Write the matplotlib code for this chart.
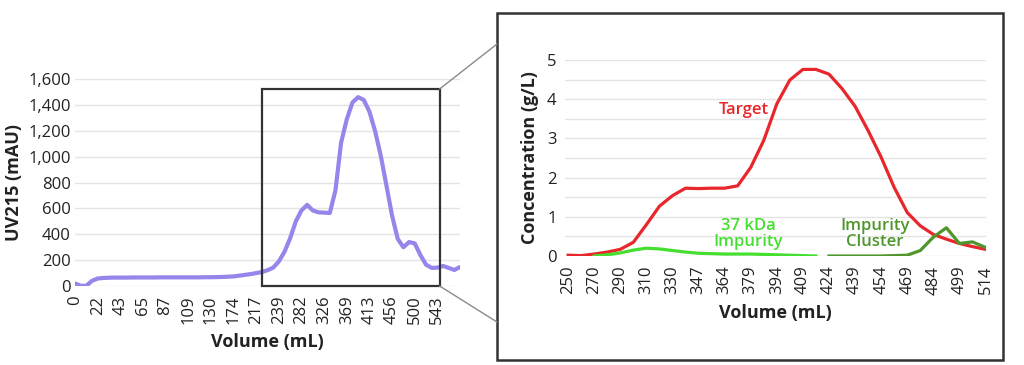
import matplotlib
matplotlib.use('Agg')
import matplotlib.pyplot as plt
from matplotlib.patches import Rectangle, ConnectionPatch
from matplotlib.ticker import FuncFormatter
import numpy as np

plt.rcParams['font.family'] = ['Open Sans', 'DejaVu Sans']

# ---- left chart: UV215 trace, sampled every quarter category ----
uv_ticks = ['0', '22', '43', '65', '87', '109', '130', '174', '217',
            '239', '282', '326', '369', '413', '456', '500', '543']
uv_step = 0.25
uv_vals = [20, 2, 2, 40, 58, 62, 64, 65,
           65, 65, 66, 66, 66, 66, 66, 67,
           67, 67, 67, 67, 67, 67, 67, 68,
           68, 69, 70, 72, 74, 80, 86, 92,
           100, 108, 122, 142, 190, 265, 370, 500,
           585, 628, 585, 570, 568, 565, 740, 1110,
           1290, 1420, 1462, 1440, 1350, 1200, 1010, 780,
           545, 365, 300, 340, 330, 240, 165, 140,
           142, 155, 140, 124, 147]
uv_yticks = [0, 200, 400, 600, 800, 1000, 1200, 1400, 1600]
# zoom window shown on the right (category units, mAU)
zoom_x = (8.25, 16.1)
zoom_y = (0, 1525)

# ---- right chart: concentrations, sampled every half category ----
conc_ticks = ['250', '270', '290', '310', '330', '347', '364', '379', '394',
              '409', '424', '439', '454', '469', '484', '499', '514']
conc_step = 0.5
target = [0.02, 0.01, 0.05, 0.1, 0.17, 0.35, 0.8, 1.27, 1.54, 1.73, 1.72,
          1.73, 1.73, 1.79, 2.26, 2.95, 3.88, 4.49, 4.76, 4.76, 4.64, 4.27,
          3.82, 3.2, 2.52, 1.75, 1.11, 0.77, 0.55, 0.43, 0.32, 0.24, 0.17]
imp37 = [None, None, 0.0, 0.03, 0.08, 0.15, 0.2, 0.18, 0.14, 0.1, 0.07,
         0.06, 0.05, 0.05, 0.05, 0.04, 0.03, 0.02, 0.01, 0.0, None, None,
         None, None, None, None, None, None, None, None, None, None, None]
cluster = [None] * 20 + [0.0, 0.0, 0.0, 0.0, 0.0, 0.01, 0.02, 0.14, 0.48,
                         0.72, 0.32, 0.36, 0.22]

purple = '#9885ec'
red = '#e8262b'
lgreen = '#44df30'
dgreen = '#4f962c'
grid = '#e4e4e4'
txt = '#222222'

fig = plt.figure(figsize=(10.24, 3.65), dpi=100)
fig.patch.set_facecolor('white')

# left axes
ax1 = fig.add_axes([75 / 1024, 1 - 286 / 365, 385 / 1024, 206.7 / 365])
x_uv = np.arange(len(uv_vals)) * uv_step
ax1.plot(x_uv, uv_vals, color=purple, lw=3.0, solid_capstyle='round',
         solid_joinstyle='round', zorder=3)
ax1.set_xlim(0, 17)
ax1.set_ylim(0, 1600)
ax1.set_yticks(uv_yticks)
ax1.yaxis.set_major_formatter(FuncFormatter(lambda v, p: f'{int(v):,}'))
ax1.set_xticks(range(len(uv_ticks)))
ax1.set_xticklabels(uv_ticks, rotation=90)
ax1.grid(axis='y', color=grid, lw=1)
ax1.set_axisbelow(True)
for s in ax1.spines.values():
    s.set_visible(False)
ax1.tick_params(length=0, labelsize=12, colors=txt)
ax1.tick_params(axis='x', pad=7)
ax1.tick_params(axis='y', pad=3)
ax1.set_ylabel('UV215 (mAU)', fontsize=13, fontweight='bold', color=txt, labelpad=4)
ax1.set_xlabel('Volume (mL)', fontsize=13, fontweight='bold', color=txt, labelpad=6)

box = Rectangle((zoom_x[0], zoom_y[0]), zoom_x[1] - zoom_x[0], zoom_y[1] - zoom_y[0],
                fill=False, ec='#333333', lw=1.6, zorder=4, clip_on=False)
ax1.add_patch(box)

# right axes
ax2 = fig.add_axes([565 / 1024, 1 - 256 / 365, 421 / 1024, 196 / 365])
x_c = np.arange(len(target)) * conc_step
ax2.plot(x_c, target, color=red, lw=2.3, solid_joinstyle='round', zorder=3)
ax2.plot(x_c, np.array(imp37, dtype=float), color=lgreen, lw=2.3, zorder=3)
ax2.plot(x_c, np.array(cluster, dtype=float), color=dgreen, lw=2.3, zorder=3)
ax2.set_xlim(-0.12, 16.02)
ax2.set_ylim(0, 5)
ax2.set_yticks(np.arange(0, 5.5, 0.5), minor=False)
ax2.set_yticklabels(['0', '', '1', '', '2', '', '3', '', '4', '', '5'])
ax2.set_xticks(range(len(conc_ticks)))
ax2.set_xticklabels(conc_ticks, rotation=90)
ax2.grid(axis='y', color=grid, lw=1)
ax2.set_axisbelow(True)
for s in ax2.spines.values():
    s.set_visible(False)
ax2.tick_params(length=0, labelsize=12, colors=txt)
ax2.tick_params(axis='x', pad=7)
ax2.tick_params(axis='y', pad=6)
ax2.set_ylabel('Concentration (g/L)', fontsize=13, fontweight='bold', color=txt, labelpad=6)
ax2.set_xlabel('Volume (mL)', fontsize=13, fontweight='bold', color=txt, labelpad=7)

ax2.text(6.72, 3.72, 'Target', color=red, fontsize=12, fontweight='semibold',
         ha='center', va='center')
ax2.text(6.9, 0.56, '37 kDa\nImpurity', color=lgreen, fontsize=12, fontweight='semibold',
         ha='center', va='center', linespacing=0.95)
ax2.text(11.76, 0.56, 'Impurity\nCluster', color=dgreen, fontsize=12, fontweight='semibold',
         ha='center', va='center', linespacing=0.95)

# frame around the detail panel
fx0, fy0, fx1, fy1 = 497 / 1024, 1 - 360 / 365, 1003 / 1024, 1 - 13 / 365
frame = Rectangle((fx0, fy0), fx1 - fx0, fy1 - fy0, transform=fig.transFigure,
                  fill=False, ec='#333333', lw=1.8)
fig.add_artist(frame)

# connector lines from the zoom box to the panel
for yd, yf in [(zoom_y[1], 1 - 44 / 365), (zoom_y[0], 1 - 322 / 365)]:
    con = ConnectionPatch(xyA=(zoom_x[1], yd), coordsA=ax1.transData,
                          xyB=(fx0, yf), coordsB=fig.transFigure,
                          color='#8a8a8a', lw=1)
    fig.add_artist(con)

fig.savefig('out.png', dpi=100)
